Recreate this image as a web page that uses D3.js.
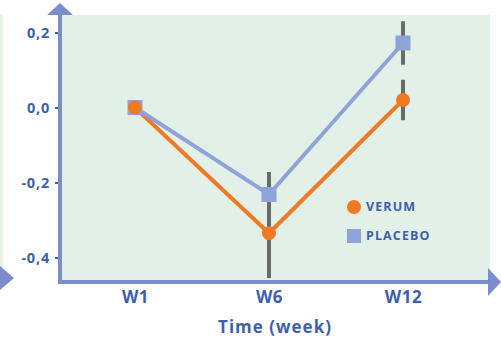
<!DOCTYPE html>
<html><head><meta charset="utf-8">
<script src="https://cdn.jsdelivr.net/npm/d3@7"></script>
<style>body{margin:0;background:#fff}svg{display:block}</style>
</head><body>
<svg id="c" width="501" height="337"></svg>
<script>
const categories = ["W1", "W6", "W12"];
const verum = [0.0, -0.335, 0.02];
const verumErr = [0, 0.12, 0.054];
const placebo = [0.0, -0.232, 0.172];
const placeboErr = [0, 0.06, 0.058];
const yTicks = [-0.4, -0.2, 0.0, 0.2];
const seriesNames = ["VERUM", "PLACEBO"];
const xTitle = "Time (week)";

const textCol = "#3e5fac", axisCol = "#7b8dcc", bg = "#e3f0e8";
const orange = "#f07a24", blue = "#8ea4d8", errCol = "#6a6a6a";
const font = "'Open Sans', Lato, sans-serif";

const svg = d3.select("#c");
const x = d3.scalePoint().domain(categories).range([135, 403]);
const y = d3.scaleLinear().domain([-0.4, 0.2]).range([257.5, 32.5]);

// left crop artifacts
svg.append("rect").attr("x", 0).attr("y", 15).attr("width", 3).attr("height", 268).attr("fill", bg);
svg.append("path").attr("d", "M0,266L14,278L0,290Z").attr("fill", axisCol);

// panel
svg.append("rect").attr("x", 60).attr("y", 15).attr("width", 430).attr("height", 267).attr("fill", bg);

// y axis ticks
const ya = svg.append("g").attr("transform", "translate(58,0)")
  .call(d3.axisLeft(y).tickValues(yTicks).tickSize(3).tickPadding(5)
    .tickFormat(d => d3.format(".1f")(d).replace("−", "-").replace(".", ",")));
ya.select(".domain").remove();
ya.selectAll(".tick line").attr("stroke", textCol).attr("stroke-width", 2);
ya.selectAll(".tick text").attr("fill", textCol).style("font", "700 14.5px " + font).style("letter-spacing", "0.8px");

// axes lines + arrows
svg.append("line").attr("x1", 60).attr("x2", 60).attr("y1", 14).attr("y2", 284)
  .attr("stroke", axisCol).attr("stroke-width", 4);
svg.append("path").attr("d", "M47,15L60,3L73,15Z").attr("fill", axisCol);
svg.append("line").attr("x1", 58).attr("x2", 490).attr("y1", 282).attr("y2", 282)
  .attr("stroke", axisCol).attr("stroke-width", 4);
svg.append("path").attr("d", "M488,268L501,282L488,296Z").attr("fill", axisCol);

// x axis labels
const xa = svg.append("g").attr("transform", "translate(0,284)")
  .call(d3.axisBottom(x).tickSize(0).tickPadding(7));
xa.select(".domain").remove();
xa.selectAll(".tick text").attr("fill", textCol).style("font", "700 17px " + font).style("letter-spacing", "0.5px");
svg.append("text").attr("x", 275).attr("y", 333).attr("text-anchor", "middle")
  .attr("fill", textCol).style("font", "700 17px " + font).style("letter-spacing", "1px").text(xTitle);

// error bars
function errs(vals, es) {
  svg.append("g").selectAll("line").data(categories.filter((c, i) => es[i] > 0)).join("line")
    .attr("x1", c => x(c)).attr("x2", c => x(c))
    .attr("y1", c => { const i = categories.indexOf(c); return y(vals[i] + es[i]); })
    .attr("y2", c => { const i = categories.indexOf(c); return y(vals[i] - es[i]); })
    .attr("stroke", errCol).attr("stroke-width", 4);
}
errs(verum, verumErr);
errs(placebo, placeboErr);

const line = d3.line().x((d, i) => x(categories[i])).y(d => y(d));
svg.append("path").datum(verum).attr("d", line).attr("fill", "none").attr("stroke", orange).attr("stroke-width", 4);
svg.append("path").datum(placebo).attr("d", line).attr("fill", "none").attr("stroke", blue).attr("stroke-width", 4);

svg.append("g").selectAll("rect").data(placebo).join("rect")
  .attr("x", (d, i) => x(categories[i]) - 7.5).attr("y", d => y(d) - 7.5)
  .attr("width", 15).attr("height", 15).attr("fill", blue);
svg.append("g").selectAll("circle").data(verum).join("circle")
  .attr("cx", (d, i) => x(categories[i])).attr("cy", d => y(d)).attr("r", 7).attr("fill", orange);

// legend
svg.append("circle").attr("cx", 354).attr("cy", 207).attr("r", 7).attr("fill", orange);
svg.append("rect").attr("x", 347).attr("y", 229).attr("width", 14).attr("height", 14).attr("fill", blue);
svg.append("g").selectAll("text").data(seriesNames).join("text")
  .attr("x", 366).attr("y", (d, i) => 207 + i * 29).attr("dy", "0.35em")
  .attr("fill", textCol).style("font", "700 12.5px " + font).style("letter-spacing", "1.1px").text(d => d);
</script>
</body></html>
